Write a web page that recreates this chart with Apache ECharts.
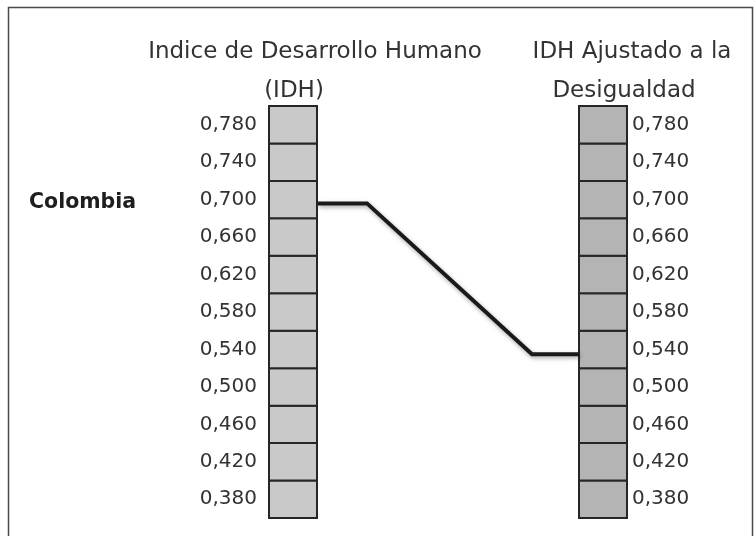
<!DOCTYPE html>
<html lang="es">
<head>
<meta charset="utf-8" />
<title>IDH Colombia</title>
<script src="https://cdn.jsdelivr.net/npm/echarts@6/dist/echarts.min.js"></script>
<style>
  html, body { margin: 0; padding: 0; background: #fff; }
  #chart { width: 755px; height: 536px; }
</style>
</head>
<body>
<div id="chart"></div>
<script>
// datos
var columns = ['IDH', 'IDH-D'];
var columnTitles = [
  ['Indice de Desarrollo Humano', '(IDH)'],
  ['IDH Ajustado a la', 'Desigualdad']
];
var ticks = [0.38, 0.42, 0.46, 0.50, 0.54, 0.58, 0.62, 0.66, 0.70, 0.74, 0.78];
var tickLabels = ['0,380', '0,420', '0,460', '0,500', '0,540', '0,580', '0,620', '0,660', '0,700', '0,740', '0,780'];
var country = 'Colombia';
var values = [0.696, 0.535];

var FONT = 'DejaVu Sans';
var BOX_W = 48;
var step = ticks[1] - ticks[0];

function tickLabel(v) {
  for (var i = 0; i < ticks.length; i++) {
    if (Math.abs(ticks[i] - v) < 1e-6) return tickLabels[i];
  }
  return '';
}

// cajas de cada columna
var boxData = [];
for (var c = 0; c < columns.length; c++) {
  for (var i = 0; i < ticks.length; i++) {
    boxData.push([c, ticks[i]]);
  }
}
var fills = ['#c9c9c9', '#b4b4b4'];

function renderBox(params, api) {
  var c = api.value(0);
  var t = api.value(1);
  var top = api.coord([c, t + step / 2]);
  var bot = api.coord([c, t - step / 2]);
  return {
    type: 'rect',
    shape: { x: top[0] - BOX_W / 2, y: top[1], width: BOX_W, height: bot[1] - top[1] },
    style: { fill: fills[c], stroke: '#262626', lineWidth: 2 }
  };
}

function renderLink(params, api) {
  var p0 = api.coord([0, api.value(1)]);
  var p1 = api.coord([1, api.value(2)]);
  var x0 = p0[0] + BOX_W / 2 + 1;
  var x1 = p1[0] - BOX_W / 2;
  return {
    type: 'group',
    children: [
      {
        type: 'polyline',
        shape: { points: [[x0, p0[1]], [x0 + 49, p0[1]], [x1 - 47, p1[1]], [x1, p1[1]]] },
        style: {
          fill: null, stroke: '#1a1a1a', lineWidth: 4, lineJoin: 'miter',
          shadowBlur: 4, shadowColor: 'rgba(0,0,0,0.35)', shadowOffsetX: 1, shadowOffsetY: 2
        }
      },
      {
        type: 'text',
        x: 29, y: p0[1] - 1,
        style: {
          text: country, fill: '#1e1e1e', font: 'bold 20.5px "' + FONT + '"',
          align: 'left', verticalAlign: 'middle', textAlign: 'left', textVerticalAlign: 'middle'
        }
      }
    ]
  };
}

var titlePos = [
  [[315, 52], [294, 91]],
  [[632, 52], [624, 91]]
];
var graphics = [{
  type: 'rect',
  shape: { x: 8.5, y: 7.5, width: 744, height: 545 },
  style: { fill: null, stroke: '#4a4a4a', lineWidth: 1.5 }
}];
columnTitles.forEach(function (lines, c) {
  lines.forEach(function (txt, k) {
    graphics.push({
      type: 'text',
      x: titlePos[c][k][0],
      y: titlePos[c][k][1],
      style: {
        text: txt, fill: '#333', font: '23px "' + FONT + '"',
        align: 'center', verticalAlign: 'middle', textAlign: 'center', textVerticalAlign: 'middle'
      }
    });
  });
});

var yAxisBase = function (pos, margin) {
  return {
    type: 'value', position: pos, min: 0.36, max: 0.80,
    axisLine: { show: false }, axisTick: { show: false }, splitLine: { show: false },
    axisLabel: {
      customValues: ticks, formatter: tickLabel, margin: margin,
      fontFamily: FONT, fontSize: 20, color: '#333', padding: [6, 0, 0, 0]
    }
  };
};

var chart = echarts.init(document.getElementById('chart'));
chart.setOption({
  animation: false,
  backgroundColor: '#fff',
  grid: { left: 293, right: 152, top: 106, bottom: 18 },
  xAxis: { type: 'category', data: columns, boundaryGap: false, show: false },
  yAxis: [yAxisBase('left', 36), yAxisBase('right', 29)],
  graphic: graphics,
  series: [
    { type: 'custom', renderItem: renderBox, data: boxData, encode: { x: 0, y: 1 } },
    { type: 'custom', renderItem: renderLink, data: [[0, values[0], values[1]]], encode: { x: 0, y: [1, 2] }, z: 3 }
  ]
});
</script>
</body>
</html>
